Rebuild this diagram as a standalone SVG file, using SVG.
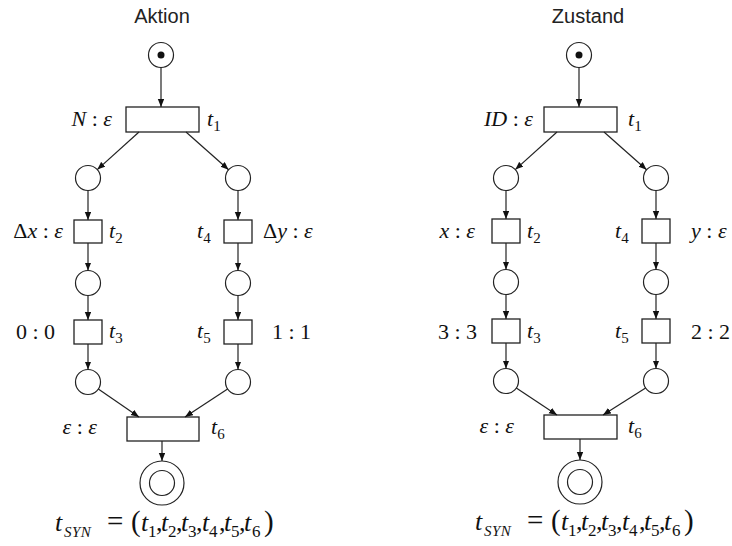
<svg xmlns="http://www.w3.org/2000/svg" width="732" height="546" viewBox="0 0 732 546">
<defs>
<marker id="ah" markerUnits="userSpaceOnUse" markerWidth="9" markerHeight="7" refX="8" refY="3.2" orient="auto">
<path d="M0,0 L8,3.2 L0,6.4 z" fill="#111"/>
</marker>
<style>
.pl{fill:#fff;stroke:#222;stroke-width:1.2}
.tr{fill:#fff;stroke:#222;stroke-width:1.3}
.tok{fill:#111}
.arc{stroke:#222;stroke-width:1.2;fill:none;marker-end:url(#ah)}
.ttl{font-family:'Liberation Sans',Arial,Helvetica,sans-serif;font-size:20px;fill:#222}
.m{font-family:'Times New Roman','Liberation Serif',Times,serif;font-size:22px;fill:#111}
.f{font-family:'Times New Roman','Liberation Serif',Times,serif;font-size:26px;fill:#111}
.i{font-style:italic}
.s{font-size:15px;font-style:normal}
.fs{font-size:17px;font-style:normal}
.ss{font-size:15px;font-style:italic;letter-spacing:0.5px}
.big{font-size:29px}
</style>
</defs>
<rect width="732" height="546" fill="#fff"/>

<text class="ttl" x="162" y="23" text-anchor="middle">Aktion</text>
<text class="ttl" x="588" y="23" text-anchor="middle">Zustand</text>

<!-- Left net nodes -->
<g id="A_p0"><circle class="pl" cx="161" cy="55" r="12.5"/><circle class="tok" cx="161" cy="55" r="3.5"/></g>
<g id="A_t1"><rect class="tr" x="126" y="107" width="73" height="25"/>
<text class="m" x="112" y="126" text-anchor="end"><tspan class="i">N</tspan> : <tspan class="i">ε</tspan></text>
<text class="m" x="207" y="126"><tspan class="i">t</tspan><tspan class="s" dy="5">1</tspan></text></g>
<g id="A_p1"><circle class="pl" cx="88" cy="178" r="12.5"/></g>
<g id="A_p4"><circle class="pl" cx="238" cy="178" r="12.5"/></g>
<g id="A_t2"><rect class="tr" x="74" y="220" width="28" height="23"/>
<text class="m" x="63" y="238" text-anchor="end">Δ<tspan class="i">x</tspan> : <tspan class="i">ε</tspan></text>
<text class="m" x="109" y="238"><tspan class="i">t</tspan><tspan class="s" dy="5">2</tspan></text></g>
<g id="A_t4"><rect class="tr" x="224" y="220" width="28" height="23"/>
<text class="m" x="197" y="238"><tspan class="i">t</tspan><tspan class="s" dy="5">4</tspan></text>
<text class="m" x="263" y="238">Δ<tspan class="i">y</tspan> : <tspan class="i">ε</tspan></text></g>
<g id="A_p2"><circle class="pl" cx="88" cy="283" r="12.5"/></g>
<g id="A_p5"><circle class="pl" cx="238" cy="283" r="12.5"/></g>
<g id="A_t3"><rect class="tr" x="74" y="320" width="28" height="24"/>
<text class="m" x="55" y="339" text-anchor="end">0 : 0</text>
<text class="m" x="109" y="338"><tspan class="i">t</tspan><tspan class="s" dy="5">3</tspan></text></g>
<g id="A_t5"><rect class="tr" x="224" y="320" width="28" height="24"/>
<text class="m" x="197" y="338"><tspan class="i">t</tspan><tspan class="s" dy="5">5</tspan></text>
<text class="m" x="272" y="339">1 : 1</text></g>
<g id="A_p3"><circle class="pl" cx="88" cy="382" r="12.5"/></g>
<g id="A_p6"><circle class="pl" cx="238" cy="382" r="12.5"/></g>
<g id="A_t6"><rect class="tr" x="127" y="417" width="72" height="24"/>
<text class="m" x="97" y="434" text-anchor="end"><tspan class="i">ε</tspan> : <tspan class="i">ε</tspan></text>
<text class="m" x="211" y="434"><tspan class="i">t</tspan><tspan class="s" dy="5">6</tspan></text></g>
<g id="A_pend"><circle class="pl" cx="162" cy="483" r="22"/><circle class="pl" cx="162" cy="483" r="12.5"/></g>
<g id="A_syn"><text class="f" y="531"><tspan class="i" x="55">t</tspan><tspan class="ss" x="64" dy="6">SYN</tspan><tspan class="big" x="107" dy="-6">=</tspan><tspan class="big" x="131">(</tspan><tspan class="i" x="141">t</tspan><tspan class="fs" x="148" dy="6">1</tspan><tspan x="156" dy="-6">,</tspan><tspan class="i" x="161">t</tspan><tspan class="fs" x="168" dy="6">2</tspan><tspan x="176" dy="-6">,</tspan><tspan class="i" x="181">t</tspan><tspan class="fs" x="188" dy="6">3</tspan><tspan x="196" dy="-6">,</tspan><tspan class="i" x="202">t</tspan><tspan class="fs" x="209" dy="6">4</tspan><tspan x="219" dy="-6">,</tspan><tspan class="i" x="224">t</tspan><tspan class="fs" x="231" dy="6">5</tspan><tspan x="239" dy="-6">,</tspan><tspan class="i" x="244">t</tspan><tspan class="fs" x="252" dy="6">6</tspan><tspan class="big" x="264" dy="-6">)</tspan></text></g>

<!-- Right net nodes -->
<g id="Z_p0"><circle class="pl" cx="579" cy="55" r="12.5"/><circle class="tok" cx="579" cy="55" r="3.5"/></g>
<g id="Z_t1"><rect class="tr" x="544" y="107" width="73" height="25"/>
<text class="m" x="533" y="126" text-anchor="end"><tspan class="i">ID</tspan> : <tspan class="i">ε</tspan></text>
<text class="m" x="628" y="126"><tspan class="i">t</tspan><tspan class="s" dy="5">1</tspan></text></g>
<g id="Z_p1"><circle class="pl" cx="506" cy="178" r="12.5"/></g>
<g id="Z_p4"><circle class="pl" cx="656" cy="178" r="12.5"/></g>
<g id="Z_t2"><rect class="tr" x="492" y="219" width="28" height="24"/>
<text class="m" x="475" y="238" text-anchor="end"><tspan class="i">x</tspan> : <tspan class="i">ε</tspan></text>
<text class="m" x="527" y="238"><tspan class="i">t</tspan><tspan class="s" dy="5">2</tspan></text></g>
<g id="Z_t4"><rect class="tr" x="642" y="219" width="28" height="24"/>
<text class="m" x="615" y="238"><tspan class="i">t</tspan><tspan class="s" dy="5">4</tspan></text>
<text class="m" x="691" y="238"><tspan class="i">y</tspan> : <tspan class="i">ε</tspan></text></g>
<g id="Z_p2"><circle class="pl" cx="506" cy="282" r="12.5"/></g>
<g id="Z_p5"><circle class="pl" cx="656" cy="282" r="12.5"/></g>
<g id="Z_t3"><rect class="tr" x="492" y="319" width="28" height="24"/>
<text class="m" x="477" y="339" text-anchor="end">3 : 3</text>
<text class="m" x="527" y="338"><tspan class="i">t</tspan><tspan class="s" dy="5">3</tspan></text></g>
<g id="Z_t5"><rect class="tr" x="642" y="319" width="28" height="24"/>
<text class="m" x="615" y="338"><tspan class="i">t</tspan><tspan class="s" dy="5">5</tspan></text>
<text class="m" x="691" y="339">2 : 2</text></g>
<g id="Z_p3"><circle class="pl" cx="506" cy="381" r="12.5"/></g>
<g id="Z_p6"><circle class="pl" cx="656" cy="381" r="12.5"/></g>
<g id="Z_t6"><rect class="tr" x="544" y="415" width="73" height="24"/>
<text class="m" x="514" y="433" text-anchor="end"><tspan class="i">ε</tspan> : <tspan class="i">ε</tspan></text>
<text class="m" x="628" y="433"><tspan class="i">t</tspan><tspan class="s" dy="5">6</tspan></text></g>
<g id="Z_pend"><circle class="pl" cx="580" cy="482" r="22"/><circle class="pl" cx="580" cy="482" r="12.5"/></g>
<g id="Z_syn"><text class="f" y="530"><tspan class="i" x="475">t</tspan><tspan class="ss" x="484" dy="6">SYN</tspan><tspan class="big" x="527" dy="-6">=</tspan><tspan class="big" x="551">(</tspan><tspan class="i" x="561">t</tspan><tspan class="fs" x="568" dy="6">1</tspan><tspan x="576" dy="-6">,</tspan><tspan class="i" x="581">t</tspan><tspan class="fs" x="588" dy="6">2</tspan><tspan x="596" dy="-6">,</tspan><tspan class="i" x="601">t</tspan><tspan class="fs" x="608" dy="6">3</tspan><tspan x="616" dy="-6">,</tspan><tspan class="i" x="622">t</tspan><tspan class="fs" x="629" dy="6">4</tspan><tspan x="639" dy="-6">,</tspan><tspan class="i" x="644">t</tspan><tspan class="fs" x="651" dy="6">5</tspan><tspan x="659" dy="-6">,</tspan><tspan class="i" x="664">t</tspan><tspan class="fs" x="672" dy="6">6</tspan><tspan class="big" x="684" dy="-6">)</tspan></text></g>

<!-- Connectors -->
<g id="connectors">
<line class="arc" x1="161" y1="67.5" x2="161" y2="107"/>
<line class="arc" x1="139" y1="132" x2="97.3" y2="169.6"/>
<line class="arc" x1="186" y1="132" x2="228.6" y2="169.7"/>
<line class="arc" x1="88" y1="190.5" x2="88" y2="220"/>
<line class="arc" x1="238" y1="190.5" x2="238" y2="220"/>
<line class="arc" x1="88" y1="243" x2="88" y2="270.5"/>
<line class="arc" x1="238" y1="243" x2="238" y2="270.5"/>
<line class="arc" x1="88" y1="295.5" x2="88" y2="320"/>
<line class="arc" x1="238" y1="295.5" x2="238" y2="320"/>
<line class="arc" x1="88" y1="344" x2="88" y2="369.5"/>
<line class="arc" x1="238" y1="344" x2="238" y2="369.5"/>
<line class="arc" x1="98.3" y1="389.1" x2="139" y2="417"/>
<line class="arc" x1="227.6" y1="388.9" x2="185" y2="417"/>
<line class="arc" x1="162" y1="441" x2="162" y2="461"/>

<line class="arc" x1="579" y1="67.5" x2="579" y2="107"/>
<line class="arc" x1="557" y1="132" x2="515.3" y2="169.6"/>
<line class="arc" x1="604" y1="132" x2="646.6" y2="169.7"/>
<line class="arc" x1="506" y1="190.5" x2="506" y2="219"/>
<line class="arc" x1="656" y1="190.5" x2="656" y2="219"/>
<line class="arc" x1="506" y1="243" x2="506" y2="269.5"/>
<line class="arc" x1="656" y1="243" x2="656" y2="269.5"/>
<line class="arc" x1="506" y1="294.5" x2="506" y2="319"/>
<line class="arc" x1="656" y1="294.5" x2="656" y2="319"/>
<line class="arc" x1="506" y1="343" x2="506" y2="368.5"/>
<line class="arc" x1="656" y1="343" x2="656" y2="368.5"/>
<line class="arc" x1="516.3" y1="388.1" x2="557" y2="415"/>
<line class="arc" x1="645.6" y1="387.9" x2="603" y2="415"/>
<line class="arc" x1="580" y1="439" x2="580" y2="460"/>
</g>
</svg>
